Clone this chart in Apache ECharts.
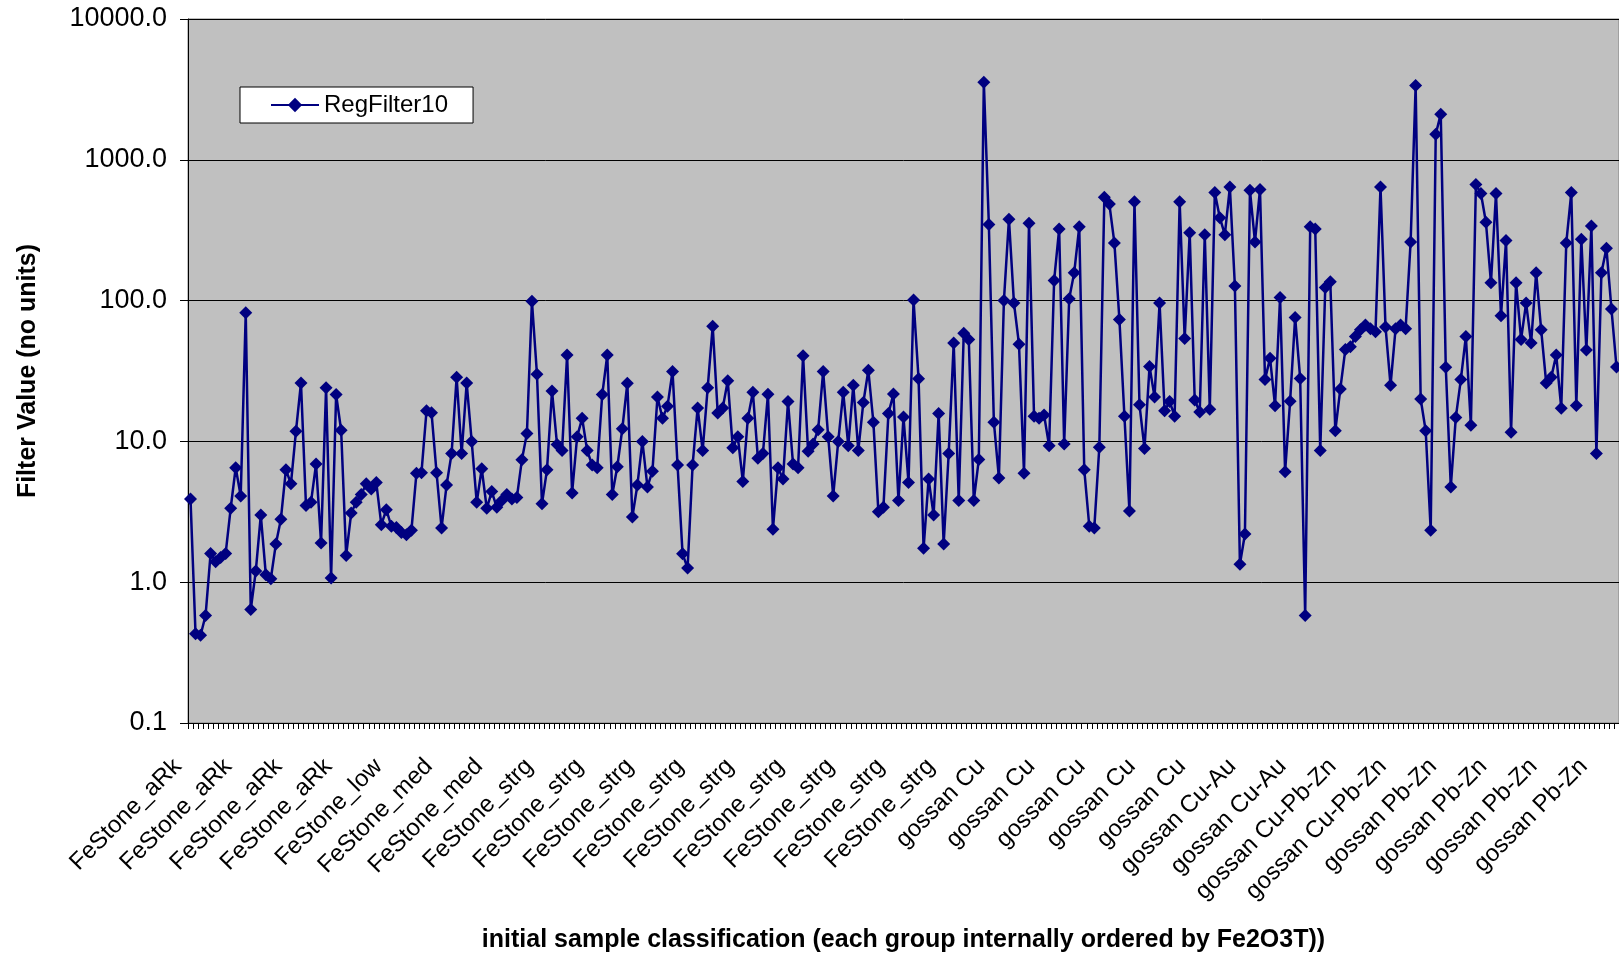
<!DOCTYPE html>
<html>
<head>
<meta charset="utf-8">
<script src="https://cdn.jsdelivr.net/npm/echarts/dist/echarts.min.js"></script>
<style>
  html, body { margin: 0; padding: 0; background: #ffffff; }
  #chart { width: 1619px; height: 958px; }
</style>
</head>
<body>
<div id="chart"></div>
<script>
// ---- data ----
const groupNames = ['FeStone_aRk', 'FeStone_low', 'FeStone_med', 'FeStone_strg',
  'gossan Cu', 'gossan Cu-Au', 'gossan Cu-Pb-Zn', 'gossan Pb-Zn'];
const groupCounts = [34, 12, 21, 91, 48, 20, 20, 39];

const seriesName = 'RegFilter10';
const regFilter10 = [
  3.9, 0.43, 0.42, 0.58, 1.6, 1.4, 1.5, 1.6, 3.35, 6.5,
  4.1, 82, 0.64, 1.2, 3.0, 1.13, 1.06, 1.87, 2.8, 6.3,
  5.0, 11.8, 26, 3.5, 3.7, 6.9, 1.9, 24, 1.07, 21.5,
  12, 1.55, 3.1, 3.7, 4.2, 5.0, 4.6, 5.1, 2.56, 3.27,
  2.5, 2.45, 2.25, 2.17, 2.34, 5.95, 6.0, 16.5, 16, 6.0,
  2.43, 4.9, 8.2, 28.5, 8.2, 26, 10, 3.7, 6.4, 3.35,
  4.4, 3.4, 3.8, 4.2, 3.9, 4.0, 7.4, 11.4, 99, 30,
  3.6, 6.3, 22.8, 9.5, 8.6, 41, 4.3, 10.8, 14.6, 8.6,
  6.8, 6.5, 21.5, 41, 4.2, 6.6, 12.3, 25.9, 2.9, 4.9,
  10, 4.75, 6.15, 20.7, 14.6, 17.8, 31.4, 6.8, 1.59, 1.26,
  6.8, 17.3, 8.6, 24, 65.8, 15.9, 17.3, 27, 9.0, 10.8,
  5.2, 14.6, 22.3, 7.6, 8.2, 21.6, 2.38, 6.5, 5.4, 19.2,
  6.9, 6.5, 40.5, 8.5, 9.6, 12.1, 31.4, 10.8, 4.1, 10,
  22.3, 9.3, 25, 8.6, 18.9, 32, 13.7, 3.16, 3.4, 15.8,
  21.7, 3.8, 14.9, 5.1, 101, 27.9, 1.74, 5.4, 3.0, 15.8,
  1.87, 8.2, 49.9, 3.8, 58.7, 53, 3.8, 7.45, 3556, 347,
  13.7, 5.5, 100, 379, 96, 49, 5.95, 355, 15.1, 14.6,
  15.4, 9.3, 139, 322, 9.6, 103, 158, 334, 6.3, 2.5,
  2.43, 9.1, 542, 485, 257, 73.5, 15.1, 3.2, 504, 18.2,
  8.9, 34, 20.7, 96, 16.5, 19.2, 15.1, 504, 53.7, 303,
  19.7, 16.2, 294, 16.9, 585, 388, 294, 640, 127, 1.34,
  2.2, 607, 261, 616, 27.5, 39, 17.9, 105, 6.1, 19.3,
  76, 28, 0.58, 334, 322, 8.6, 124, 136, 11.9, 23.6,
  45, 47, 55.7, 62, 67, 63, 60, 640, 65, 25,
  63, 67, 63, 261, 3375, 20, 11.9, 2.34, 1518, 2109,
  33.6, 4.75, 14.8, 27.5, 55.7, 13, 668, 576, 360, 134,
  576, 78, 267, 11.6, 134, 53, 96, 50, 158, 62,
  26, 28.5, 41, 17.2, 257, 585, 18, 273, 44.6, 339,
  8.2, 158, 235, 87, 33.8
];

const yTickValues = [0.1, 1, 10, 100, 1000, 10000];
const xTitle = 'initial sample classification (each group internally ordered by Fe2O3T))';
const yTitle = 'Filter Value (no units)';

// ---- build categories ----
const categories = [];
groupNames.forEach((g, k) => {
  for (let j = 0; j < groupCounts[k]; j++) categories.push(g);
});

const FONT = '"Liberation Sans", Arial, sans-serif';
const catWidth = 5.04;

const chart = echarts.init(document.getElementById('chart'), null, { renderer: 'canvas' });
chart.setOption({
  animation: false,
  backgroundColor: '#ffffff',
  textStyle: { fontFamily: FONT, color: '#000' },
  legend: {
    data: [seriesName],
    left: 240,
    top: 87,
    orient: 'horizontal',
    backgroundColor: '#ffffff',
    borderColor: '#000000',
    borderWidth: 1,
    padding: [6, 25, 6, 30],
    itemWidth: 48,
    itemHeight: 18,
    textStyle: { fontSize: 24, color: '#000', fontFamily: FONT }
  },
  grid: {
    show: true,
    left: 188,
    top: 19,
    width: categories.length * catWidth,
    height: 709,
    backgroundColor: '#C0C0C0',
    borderColor: '#808080',
    borderWidth: 1,
    containLabel: false
  },
  xAxis: {
    type: 'category',
    data: categories,
    boundaryGap: true,
    name: xTitle,
    nameLocation: 'middle',
    nameGap: 205,
    nameTextStyle: { fontSize: 25, fontWeight: 'bold', color: '#000', fontFamily: FONT },
    axisLine: { show: true, lineStyle: { color: '#000', width: 1 } },
    axisTick: { show: true, interval: 0, length: 6, lineStyle: { color: '#000', width: 1 } },
    axisLabel: {
      interval: 9,
      rotate: 45,
      fontSize: 24,
      color: '#000',
      fontFamily: FONT,
      margin: 27,
      padding: [0, 18, 0, 0]
    },
    splitLine: { show: false }
  },
  yAxis: {
    type: 'log',
    logBase: 10,
    min: yTickValues[0],
    max: yTickValues[yTickValues.length - 1],
    splitNumber: yTickValues.length - 1,
    name: yTitle,
    nameLocation: 'middle',
    nameGap: 147,
    nameTextStyle: { fontSize: 25, fontWeight: 'bold', color: '#000', fontFamily: FONT },
    axisLine: { show: true, lineStyle: { color: '#000', width: 1 } },
    axisTick: { show: true, inside: false, length: 8, lineStyle: { color: '#000', width: 1 } },
    axisLabel: {
      fontSize: 27,
      color: '#000',
      fontFamily: FONT,
      margin: 21,
      formatter: function (v) { return Number(v).toFixed(1); }
    },
    splitLine: { show: true, lineStyle: { color: '#000', width: 1 } },
    minorTick: { show: false },
    minorSplitLine: { show: false }
  },
  series: [{
    name: seriesName,
    type: 'line',
    data: regFilter10,
    symbol: 'diamond',
    symbolSize: 13,
    showAllSymbol: true,
    clip: false,
    lineStyle: { color: '#000080', width: 2.5 },
    itemStyle: { color: '#000080' },
    emphasis: { disabled: true }
  }]
});
</script>
</body>
</html>
